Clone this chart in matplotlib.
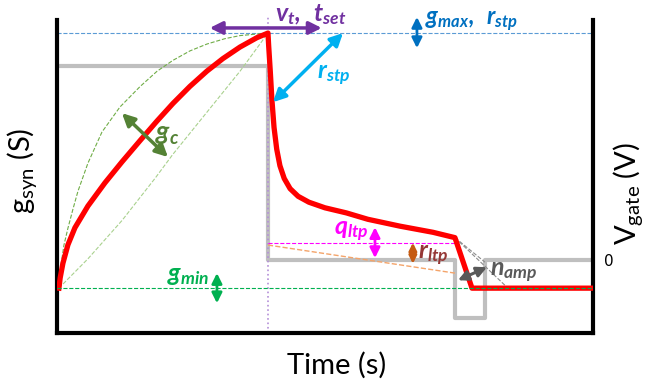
import matplotlib.pyplot as plt

# synaptic conductance, time in arbitrary units, g scaled so g_min = 0 and g_max = 1
t_rise = [0.37, 0.6, 1.12, 2.05, 3.36, 5.78, 8.96, 12.13, 15.49, 18.66, 21.64, 24.81, 27.99, 30.97, 34.14, 37.31, 39.37]
g_rise = [0.0, 0.04, 0.098, 0.17, 0.237, 0.322, 0.413, 0.495, 0.578, 0.655, 0.724, 0.791, 0.851, 0.900, 0.945, 0.982, 1.0]
t_decay = [39.37, 39.5, 39.8, 40.1, 40.5, 41.0, 41.6, 42.4, 43.5, 45.0, 47.0, 50.0, 54.0, 58.0, 64.0, 70.15, 74.25, 77.43, 100.0]
g_decay = [1.0, 0.95, 0.85, 0.74, 0.63, 0.545, 0.48, 0.43, 0.39, 0.36, 0.337, 0.315, 0.295, 0.270, 0.243, 0.219, 0.198, 0.0, 0.0]

# gate voltage steps
t_gate = [0.0, 39.37, 39.37, 74.25, 74.25, 79.85, 79.85, 100.0]
v_gate = [1.0, 1.0, 0.0, 0.0, -0.3, -0.3, 0.0, 0.0]

# g_c envelope curves
t_env_hi = [0.37, 0.75, 1.31, 2.05, 2.99, 3.92, 5.78, 8.40, 11.75, 15.49, 18.66, 21.64, 24.81, 27.99, 31.34, 34.14, 39.37]
g_env_hi = [0.0, 0.09, 0.169, 0.235, 0.31, 0.38, 0.49, 0.612, 0.71, 0.79, 0.85, 0.893, 0.93, 0.957, 0.978, 0.99, 1.0]
t_env_lo = [0.37, 5.78, 12.13, 18.28, 21.64, 27.99, 34.14, 39.37]
g_env_lo = [0.0, 0.115, 0.265, 0.43, 0.525, 0.69, 0.85, 1.0]

g_max, g_min = 1.0, 0.0
t_set, t_off = 39.37, 74.25
q_ltp_level = 0.176
r_ltp_line = [0.169, 0.059]
knee_g = 0.198
n_amp_t = [79.85, 84.14]
n_amp_g = [0.102, 0.0]

fig = plt.figure(figsize=(6.47, 3.9), dpi=100)
ax = fig.add_axes([0.088, 0.146, 0.8285, 0.8026])
ax2 = ax.twinx()
ax.set_zorder(ax2.get_zorder() + 1)
ax.patch.set_visible(False)

ax.set_xlim(0, 100)
ax.set_ylim(-0.176, 1.051)
ax2.set_ylim(-0.376, 1.237)

ax.set_xticks([])
ax.set_yticks([])
ax2.set_yticks([0])
ax2.tick_params(length=0, pad=8, labelsize=11)
for s in ax2.spines.values():
    s.set_visible(False)
ax.spines['top'].set_visible(False)
for s in ['left', 'right', 'bottom']:
    ax.spines[s].set_linewidth(3)
    ax.spines[s].set_capstyle('projecting')

# gate voltage
ax2.plot(t_gate, v_gate, color='#BFBFBF', lw=3)

# guides
ax.axhline(g_max, color='#5B9BD5', lw=0.8, ls='--', zorder=1)
ax.plot(t_env_hi, g_env_hi, color='#70AD47', lw=0.8, ls='--', zorder=1)
ax.plot(t_env_lo, g_env_lo, color='#A9D18E', lw=0.8, ls='--', zorder=1)
ax.plot([t_set, t_set], [-0.176, 1.07], color='#B48FD8', lw=1.2, ls=':', clip_on=False, zorder=1)
ax.plot([t_set, t_off], [q_ltp_level, q_ltp_level], color='#FF00FF', lw=0.8, ls='--', zorder=1)
ax.plot([t_set, t_off], r_ltp_line, color='#F4A46A', lw=1, ls='--', zorder=1)
for tt, gg in zip(n_amp_t, n_amp_g):
    ax.plot([t_off, tt], [knee_g, gg], color='#8C8C8C', lw=0.8, ls='--', zorder=1)

# conductance trace
ax.plot(t_rise + t_decay[1:], g_rise + g_decay[1:], color='#FF0000', lw=3.8, zorder=3)
ax.axhline(g_min, color='#00B050', lw=0.8, ls='--', zorder=4)


def arrow(p0, p1, color, lw=2.5, head=15):
    ax.annotate('', xy=p1, xytext=p0, annotation_clip=False,
                arrowprops=dict(arrowstyle='<|-|>,head_length=0.5,head_width=0.25',
                                color=color, lw=lw, shrinkA=0, shrinkB=0,
                                mutation_scale=head))


def label(x, y, s, color, size=18):
    ax.text(x, y, s, color=color, fontsize=size, family='Lato', weight='bold',
            style='italic', ha='left', va='center', clip_on=False, zorder=5)


arrow((28.5, 1.02), (49.4, 1.02), '#7030A0')
label(40.7, 1.072, r'$\mathregular{v_t,\ t_{set}}$', '#7030A0')

arrow((40.3, 0.729), (53.36, 1.0), '#00B0F0')
label(48.5, 0.835, r'$\mathregular{r_{stp}}$', '#00B0F0')

arrow((67.16, 1.063), (67.16, 0.941), '#0070C0', 2, 12)
label(68.66, 1.045, r'$\mathregular{g_{max},\ r_{stp}}$', '#0070C0', 17)

arrow((12.13, 0.686), (20.71, 0.514), '#548235')
label(18.28, 0.6, r'$\mathregular{g_c}$', '#548235', 19)

arrow((29.85, 0.059), (29.85, -0.059), '#00B050', 2, 12)
label(20.5, 0.05, r'$\mathregular{g_{min}}$', '#00B050')

arrow((59.33, 0.239), (59.33, 0.118), '#FF00FF', 2, 12)
label(51.6, 0.22, r'$\mathregular{q_{ltp}}$', '#FF00FF')

arrow((66.4, 0.178), (66.4, 0.096), '#C55A11', 2, 9)
label(67.3, 0.13, r'$\mathregular{r_{ltp}}$', '#953735')

arrow((74.81, 0.031), (80.22, 0.082), '#595959', 2.2, 12)
label(80.8, 0.06, r'$\mathregular{n_{amp}}$', '#595959')

fig.text(0.034, 0.562, r'$\mathregular{g_{syn}}$ (S)', rotation=90, family='Lato',
         fontsize=21, ha='center', va='center')
fig.text(0.997, 0.505, r'$\mathregular{V_{gate}}$ (V)', rotation=90, family='Lato',
         fontsize=21, ha='right', va='center')
fig.text(0.521, 0.063, 'Time (s)', family='Lato', fontsize=21, ha='center', va='center')

fig.savefig('out.png', dpi=100)
